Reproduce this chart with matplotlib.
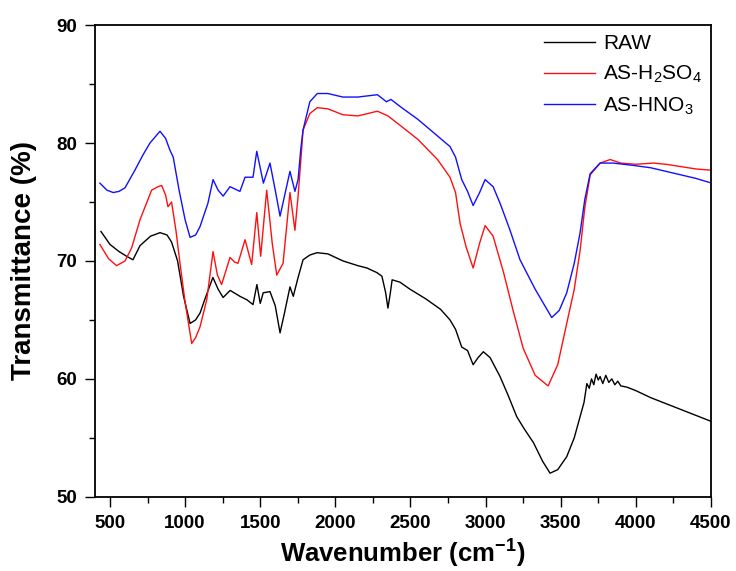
"""FTIR spectra of raw and acid-activated samples."""
import numpy as np
import matplotlib
matplotlib.use("Agg")
import matplotlib.pyplot as plt
from matplotlib.ticker import MultipleLocator

plt.rcParams["font.family"] = ["Liberation Sans", "DejaVu Sans"]
plt.rcParams["mathtext.default"] = "regular"

# wavenumber (cm-1) / transmittance (%)
raw_x = [440, 500, 560, 610, 653, 700, 770, 833, 880, 910, 950, 990, 1033, 1070,
         1100, 1130, 1185, 1220, 1253, 1300, 1365, 1412, 1452, 1478, 1500, 1520,
         1565, 1600, 1632, 1660, 1698, 1720, 1750, 1785, 1830, 1878, 1950, 2051,
         2150, 2211, 2278, 2310, 2335, 2350, 2365, 2378, 2430, 2497, 2600, 2700,
         2763, 2800, 2841, 2880, 2917, 2950, 2985, 3030, 3096, 3150, 3207, 3260,
         3318, 3380, 3429, 3480, 3540, 3590, 3629, 3655, 3674, 3690, 3705, 3720,
         3735, 3750, 3762, 3780, 3800, 3820, 3840, 3860, 3880, 3900, 3940, 4000,
         4100, 4200, 4300, 4400, 4500]
raw_y = [72.5, 71.4, 70.8, 70.4, 70.1, 71.3, 72.1, 72.4, 72.2, 71.6, 70.0, 67.0,
         64.7, 65.0, 65.6, 66.7, 68.6, 67.6, 66.9, 67.5, 67.0, 66.7, 66.3, 68.0,
         66.4, 67.3, 67.4, 66.2, 63.9, 65.5, 67.8, 67.0, 68.5, 70.1, 70.5, 70.7,
         70.6, 70.0, 69.6, 69.4, 69.0, 68.7, 67.3, 66.0, 67.2, 68.4, 68.2, 67.6,
         66.8, 65.9, 65.0, 64.2, 62.7, 62.4, 61.2, 61.8, 62.3, 61.8, 60.2, 58.6,
         56.8, 55.7, 54.6, 53.0, 52.0, 52.3, 53.4, 55.0, 56.8, 58.0, 59.6, 59.2,
         60.0, 59.5, 60.4, 59.9, 60.2, 59.6, 60.3, 59.7, 60.0, 59.5, 59.8, 59.4,
         59.3, 59.0, 58.4, 57.9, 57.4, 56.9, 56.4]

h2so4_x = [433, 490, 544, 600, 644, 700, 777, 820, 844, 870, 886, 910, 940, 966,
           1000, 1044, 1070, 1099, 1144, 1186, 1215, 1243, 1299, 1330, 1352, 1399,
           1443, 1477, 1503, 1543, 1580, 1610, 1652, 1698, 1731, 1752, 1770, 1785,
           1830, 1880, 1950, 2050, 2150, 2280, 2350, 2431, 2550, 2680, 2763, 2800,
           2830, 2870, 2917, 2960, 2997, 3050, 3120, 3183, 3250, 3330, 3416, 3480,
           3540, 3590, 3629, 3660, 3696, 3762, 3829, 3900, 4000, 4115, 4200, 4300,
           4400, 4500]
h2so4_y = [71.4, 70.2, 69.6, 70.0, 71.1, 73.5, 76.0, 76.3, 76.4, 75.6, 74.6,
           75.0, 72.5, 69.8, 66.5, 63.0, 63.5, 64.4, 66.7, 70.8, 68.8, 68.0, 70.3,
           69.9, 69.8, 71.8, 69.7, 74.1, 70.4, 76.0, 71.5, 68.8, 69.8, 75.8, 72.6,
           75.5, 78.5, 81.1, 82.5, 83.0, 82.9, 82.4, 82.3, 82.7, 82.3, 81.5, 80.3,
           78.6, 77.1, 75.8, 73.2, 71.2, 69.4, 71.5, 73.0, 72.1, 69.0, 65.8, 62.6,
           60.3, 59.4, 61.2, 64.7, 67.6, 70.9, 74.5, 77.3, 78.3, 78.6, 78.3, 78.2,
           78.3, 78.2, 78.0, 77.8, 77.7]

hno3_x = [433, 480, 522, 560, 600, 666, 720, 766, 833, 870, 899, 921, 960, 1000,
          1033, 1070, 1099, 1152, 1186, 1220, 1253, 1299, 1365, 1399, 1452, 1477,
          1521, 1565, 1600, 1632, 1698, 1731, 1752, 1770, 1785, 1830, 1880, 1950,
          2050, 2150, 2280, 2340, 2370, 2431, 2550, 2680, 2763, 2800, 2841, 2880,
          2917, 2960, 2997, 3050, 3096, 3160, 3229, 3330, 3440, 3490, 3540, 3590,
          3629, 3660, 3696, 3762, 3850, 3985, 4100, 4200, 4300, 4400, 4505]
hno3_y = [76.6, 76.0, 75.8, 75.9, 76.2, 77.7, 79.0, 80.0, 81.0, 80.4, 79.4,
          78.8, 76.0, 73.5, 72.0, 72.2, 72.9, 74.9, 76.9, 76.0, 75.5, 76.3, 75.9,
          77.1, 77.1, 79.3, 76.6, 78.3, 76.0, 73.8, 77.6, 75.9, 76.9, 79.5, 81.1,
          83.5, 84.2, 84.2, 83.9, 83.9, 84.1, 83.5, 83.7, 83.1, 82.0, 80.6, 79.7,
          78.8, 76.9, 75.9, 74.7, 75.8, 76.9, 76.3, 74.9, 72.7, 70.1, 67.6, 65.2,
          65.8, 67.3, 69.8, 72.4, 75.2, 77.4, 78.3, 78.3, 78.1, 77.9, 77.6, 77.3,
          77.0, 76.6]

fig = plt.figure(figsize=(7.36, 5.71), dpi=100)
ax = fig.add_axes([0.129, 0.130, 0.837, 0.826])

ax.plot(raw_x, raw_y, color="black", lw=1.0, label="RAW")
ax.plot(h2so4_x, h2so4_y, color="#ff1010", lw=1.0, label="AS-H$_2$SO$_4$")
ax.plot(hno3_x, hno3_y, color="#1010ff", lw=1.0, label="AS-HNO$_3$")

ax.set_xlim(400, 4500)
ax.set_ylim(50, 90)
ax.xaxis.set_major_locator(MultipleLocator(500))
ax.xaxis.set_minor_locator(MultipleLocator(250))
ax.yaxis.set_major_locator(MultipleLocator(10))
ax.yaxis.set_minor_locator(MultipleLocator(5))
ax.tick_params(which="both", direction="out", top=False, right=False, width=1.0)
ax.tick_params(which="major", length=7, labelsize=13.5, pad=6)
ax.tick_params(which="minor", length=4)
for lbl in ax.get_xticklabels() + ax.get_yticklabels():
    lbl.set_fontweight("bold")
for sp in ax.spines.values():
    sp.set_linewidth(1.3)

ax.set_xlabel("Wavenumber (cm$^{-1}$)", fontsize=18.5, fontweight="bold", labelpad=4)
ax.set_ylabel("Transmittance (%)", fontsize=20, fontweight="bold", labelpad=14)

ax.legend(loc="upper right", frameon=False, fontsize=15, handlelength=2.45,
          handletextpad=0.35, labelspacing=0.5, borderaxespad=0.0,
          borderpad=0.45, bbox_to_anchor=(1.0, 1.0))

fig.savefig("out.png", dpi=100)
print("wrote out.png")
